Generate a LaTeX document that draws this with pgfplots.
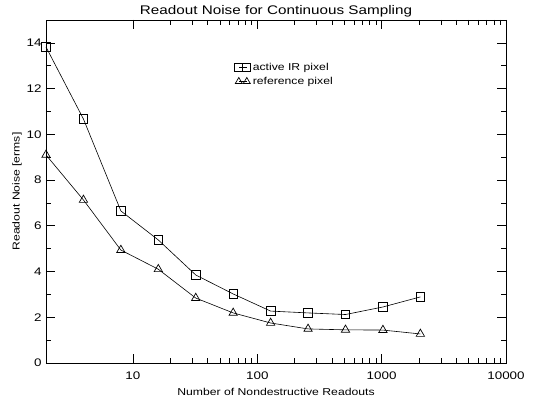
\documentclass[border=0pt]{standalone}
\usepackage{fontspec}
\setmainfont[FakeStretch=1.22]{Liberation Sans}
\usepackage{pgfplots}
\pgfplotsset{compat=1.18}
\begin{document}
\begin{tikzpicture}
\path[use as bounding box] (-46pt,-41pt) rectangle (503pt,363pt);
\begin{axis}[
  at={(0,0)}, anchor=south west,
  scale only axis, width=460pt, height=343pt,
  xmode=log, xmin=2, xmax=10000,
  ymin=0, ymax=15,
  xtick={10,100,1000,10000}, xticklabels={10,100,1000,10000},
  ytick={0,2,4,6,8,10,12,14}, minor y tick num=1,
  tick align=inside,
  major tick length=9pt, minor tick length=5pt,
  every tick/.style={black, line width=0.6pt},
  axis line style={line width=0.8pt},
  /pgf/number format/assume math mode=true,
  tick label style={font=\fontsize{11}{13}\selectfont},
  xticklabel style={yshift=-5pt},
  yticklabel style={xshift=-1pt},
  title={Readout Noise for Continuous Sampling},
  title style={font=\fontsize{12.5}{15}\selectfont, yshift=-7pt},
  xlabel={Number of Nondestructive Readouts},
  ylabel={Readout Noise [erms]},
  label style={font=\fontsize{10}{12}\selectfont},
  xlabel style={yshift=-2pt},
  ylabel style={yshift=-2pt},
  clip=false,
  legend style={draw=none, fill=none, at={(0.41,0.88)}, anchor=north west,
    font=\fontsize{10}{12}\selectfont, row sep=1pt, inner sep=0pt},
  legend cell align=left,
  legend image code/.code={\draw[#1, mark size=4pt] plot coordinates {(0pt,0pt) (8pt,0pt)};},
]
\addplot[black, line width=0.6pt, mark=square, mark size=4.3pt, mark options={line width=0.7pt}] coordinates {
(2,13.82) (4,10.67) (8,6.65) (16,5.38) (32,3.85) (64,3.02) (128,2.27) (256,2.19) (512,2.12) (1024,2.45) (2048,2.89)};
\addlegendentry{active IR pixel}
\addplot[black, line width=0.6pt, mark=triangle, mark size=4.8pt, mark options={line width=0.7pt}] coordinates {
(2,9.1) (4,7.13) (8,4.94) (16,4.1) (32,2.84) (64,2.19) (128,1.75) (256,1.49) (512,1.45) (1024,1.44) (2048,1.27)};
\addlegendentry{reference pixel}
\end{axis}
\end{tikzpicture}
\end{document}
